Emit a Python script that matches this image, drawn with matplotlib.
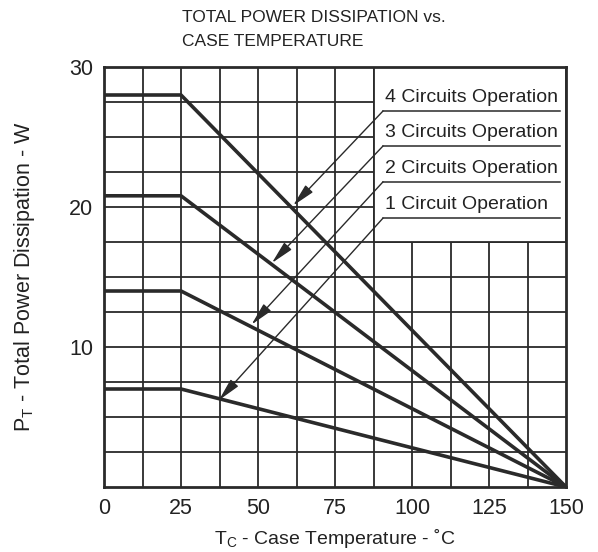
import numpy as np
import matplotlib.pyplot as plt
import matplotlib as mpl
from matplotlib.patches import Rectangle

# ---- 画面設定 ----
mpl.rcParams.update({
    "font.family": ["Liberation Sans", "DejaVu Sans"],
    "mathtext.fontset": "custom",
    "mathtext.rm": "Liberation Sans",
    "font.size": 14,
})

# ---- data ----
tc_knee = 25.0
tc_max = 150.0
circuits = ["4 Circuits Operation", "3 Circuits Operation",
            "2 Circuits Operation", "1 Circuit Operation"]
pt_max = [28.0, 20.8, 14.0, 7.0]

# leader lines: label underline height and arrow tip on each curve
label_y = [26.86, 24.36, 21.8, 19.21]
tip_x = [61.4, 54.5, 47.9, 37.3]
tip_y = [20.1, 16.0, 11.6, 6.2]

x_ticks = [0, 25, 50, 75, 100, 125, 150]
y_ticks = [10, 20, 30]

fig = plt.figure(figsize=(5.98, 5.52), dpi=100)
ax = fig.add_axes([104 / 598, 1 - 487 / 552, 462 / 598, 420 / 552])

ax.set_xlim(0, 150)
ax.set_ylim(0, 30)

# grid every 12.5 degC / 2.5 W
ink = "#2a2a2a"
for gx in np.arange(12.5, 150, 12.5):
    ax.axvline(gx, color=ink, lw=1.3, zorder=1)
for gy in np.arange(2.5, 30, 2.5):
    ax.axhline(gy, color=ink, lw=1.3, zorder=1)

# blank panel where the labels sit
ax.add_patch(Rectangle((87.5, 17.5), 62.5, 12.5, facecolor="white",
                       edgecolor=ink, lw=1.3, zorder=1.5))

# derating curves
for p in pt_max:
    ax.plot([0, tc_knee, tc_max], [p, p, 0], color=ink, lw=2.6,
            solid_capstyle="butt", zorder=3)

# labels with underline and leader arrow
for name, ly, tx, ty in zip(circuits, label_y, tip_x, tip_y):
    ax.plot([90.6, 148.2], [ly, ly], color=ink, lw=1.1, zorder=3)
    ax.text(91.2, ly + 0.35, name, ha="left", va="bottom",
            fontsize=14, color="#222222", zorder=4)
    ax.annotate("", xy=(tx, ty), xytext=(90.6, ly),
                arrowprops=dict(arrowstyle="-|>,head_length=1.0,head_width=0.22",
                                color=ink, lw=1.0, shrinkA=0, shrinkB=0),
                zorder=4)

ax.set_xticks(x_ticks)
ax.set_yticks(y_ticks)
ax.tick_params(length=0, labelsize=15.5, colors="#222222", pad=8)
for s in ax.spines.values():
    s.set_linewidth(2.0)
    s.set_color(ink)
    s.set_zorder(5)

ax.set_xlabel(r"T$\mathregular{_C}$ - Case Temperature - ˚C", fontsize=14,
              color="#222222", labelpad=6)
ax.set_ylabel(r"P$\mathregular{_T}$ - Total Power Dissipation - W", fontsize=15.5,
              color="#222222", labelpad=23)

fig.text(182 / 598, 1 - 22 / 552, "TOTAL POWER DISSIPATION vs.",
         ha="left", va="baseline", fontsize=12.5, color="#222222")
fig.text(182 / 598, 1 - 46 / 552, "CASE TEMPERATURE",
         ha="left", va="baseline", fontsize=12.5, color="#222222")

fig.savefig("out.png", dpi=100, facecolor="white")
